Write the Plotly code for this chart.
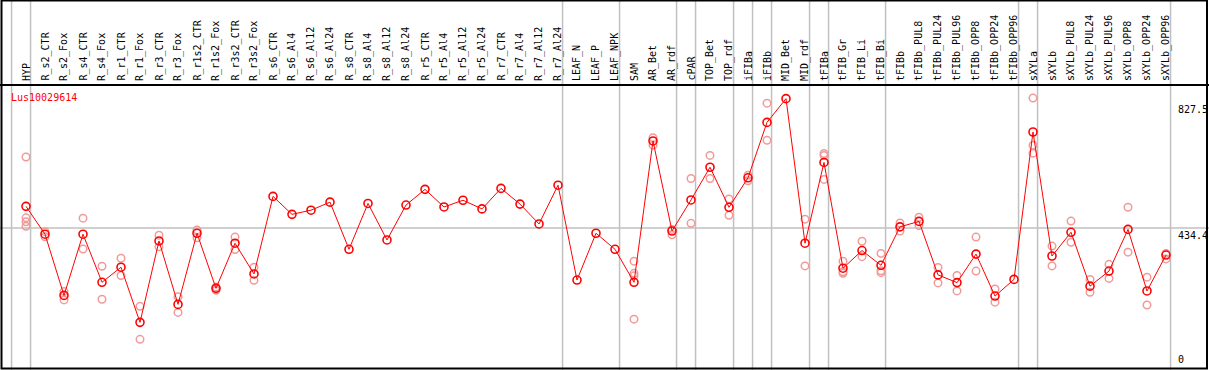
import plotly.graph_objects as go

W, H = 1209, 370

gene = "Lus10029614"

categories = ["HYP", "R_s2_CTR", "R_s2_Fox", "R_s4_CTR", "R_s4_Fox", "R_r1_CTR", "R_r1_Fox",
              "R_r3_CTR", "R_r3_Fox", "R_r1s2_CTR", "R_r1s2_Fox", "R_r3s2_CTR", "R_r3s2_Fox",
              "R_s6_CTR", "R_s6_Al4", "R_s6_Al12", "R_s6_Al24", "R_s8_CTR", "R_s8_Al4",
              "R_s8_Al12", "R_s8_Al24", "R_r5_CTR", "R_r5_Al4", "R_r5_Al12", "R_r5_Al24",
              "R_r7_CTR", "R_r7_Al4", "R_r7_Al12", "R_r7_Al24", "LEAF_N", "LEAF_P", "LEAF_NPK",
              "SAM", "AR_Bet", "AR_rdf", "cPAR", "TOP_Bet", "TOP_rdf", "iFIBa", "iFIBb",
              "MID_Bet", "MID_rdf", "tFIBa", "tFIB_Gr", "tFIB_Li", "tFIB_Bi", "tFIBb",
              "tFIBb_PUL8", "tFIBb_PUL24", "tFIBb_PUL96", "tFIBb_OPP8", "tFIBb_OPP24",
              "tFIBb_OPP96", "sXYLa", "sXYLb", "sXYLb_PUL8", "sXYLb_PUL24", "sXYLb_PUL96",
              "sXYLb_OPP8", "sXYLb_OPP24", "sXYLb_OPP96"]

mean_values = [502, 415, 224, 415, 265, 312, 140, 394, 196, 418, 246, 387, 291,
               533, 477, 490, 515, 368, 511, 397, 506, 555, 500, 521, 494,
               558, 509, 447, 568, 272, 418, 368,
               265, 706, 425, 522, 624, 499, 591, 764,
               838, 387, 639, 309, 364, 318, 438,
               455, 288, 264, 353, 222, 274,
               734, 347, 421, 253, 300, 430, 238, 350]

replicate_values = [
    [656, 466, 454, 440], [423, 407], [236, 210], [465, 369], [315, 212], [340, 286],
    [190, 87], [412, 376], [220, 171], [428, 404], [250, 240], [406, 367], [312, 271],
    [], [], [], [], [], [], [], [], [], [], [], [], [], [], [], [], [], [], [],
    [331, 293, 285, 150], [716, 693], [430, 413], [589, 449], [661, 589], [525, 474],
    [599, 582], [824, 708], [], [462, 316], [667, 661, 586], [331, 298, 293], [393, 345],
    [355, 301, 295], [450, 425], [468, 442], [311, 263], [286, 238], [406, 300],
    [244, 203], [], [840, 693, 668], [378, 316], [456, 390], [274, 234], [321, 277],
    [499, 359], [281, 194], [338, 355]]

# index of the last category of each group (group separators)
group_ends = [-1, 0, 28, 31, 34, 35, 37, 38, 39, 41, 42, 45, 52, 53, 60]

tick_values = [827.5, 434.4, 0]
tick_labels = ["827.5", "434.4", "0"]

# ---- pixel geometry ----
X0_PX, STEP_PX = 26.0, 19.0           # category 0 centre, spacing
Y_ZERO_PX, UNITS_PER_PX = 367.2, 3.1207
TOP_PX = 85                            # bottom of label band

x_idx = list(range(len(categories)))
xr = [-X0_PX / STEP_PX, (W - X0_PX) / STEP_PX]
yr = [-(H - Y_ZERO_PX) * UNITS_PER_PX, Y_ZERO_PX * UNITS_PER_PX]

def px_to_paper_y(py):
    return 1 - py / H

def px_to_paper_x(px):
    return px / W

FONT = "DejaVu Sans Mono"
GREY = "#c0c0c0"
RED = "#ff0000"
PALE = "#f09a9a"

fig = go.Figure()

rx, ry = [], []
for i, reps in enumerate(replicate_values):
    for v in reps:
        rx.append(i)
        ry.append(v)

fig.add_trace(go.Scatter(x=rx, y=ry, mode="markers",
                         marker=dict(symbol="circle-open", size=7.5, color=PALE,
                                     line=dict(width=1.5, color=PALE)),
                         hoverinfo="skip", showlegend=False))
fig.add_trace(go.Scatter(x=x_idx, y=mean_values, mode="lines+markers",
                         line=dict(color=RED, width=1),
                         marker=dict(symbol="circle-open", size=8, color=RED,
                                     line=dict(width=1.6, color=RED)),
                         text=categories, showlegend=False))

shapes = []
for k in group_ends:
    xs = k + 0.24
    shapes.append(dict(type="line", xref="x", yref="paper", x0=xs, x1=xs, y0=0, y1=1,
                       line=dict(color=GREY, width=1.5), layer="below"))
# horizontal grid line at middle tick
shapes.append(dict(type="line", xref="paper", yref="y", x0=0, x1=1,
                   y0=tick_values[1], y1=tick_values[1],
                   line=dict(color=GREY, width=1.5), layer="below"))
# frame
shapes.append(dict(type="line", xref="paper", yref="paper", x0=0, x1=1,
                   y0=px_to_paper_y(TOP_PX), y1=px_to_paper_y(TOP_PX),
                   line=dict(color="black", width=2)))
shapes.append(dict(type="rect", xref="paper", yref="paper",
                   x0=px_to_paper_x(1.5), x1=px_to_paper_x(1207),
                   y0=px_to_paper_y(368.5), y1=px_to_paper_y(0.5),
                   line=dict(color="black", width=2)))

annotations = []
for i, c in enumerate(categories):
    annotations.append(dict(x=i, y=px_to_paper_y(TOP_PX - 2), xref="x", yref="paper",
                            text=c, textangle=-90, showarrow=False,
                            xanchor="center", yanchor="bottom",
                            font=dict(family=FONT, size=10, color="black")))
annotations.append(dict(x=px_to_paper_x(9), y=px_to_paper_y(98), xref="paper", yref="paper",
                        text=gene, showarrow=False, xanchor="left", yanchor="middle",
                        font=dict(family=FONT, size=10, color=RED)))
for v, t in zip(tick_values, tick_labels):
    if v == 0:
        annotations.append(dict(x=px_to_paper_x(1176), y=px_to_paper_y(367), xref="paper",
                                yref="paper", text=t, showarrow=False, xanchor="left",
                                yanchor="bottom", font=dict(family=FONT, size=10, color="black")))
    else:
        annotations.append(dict(x=px_to_paper_x(1176), y=v, xref="paper", yref="y",
                                text=t, showarrow=False, xanchor="left", yanchor="top",
                                font=dict(family=FONT, size=10, color="black")))

fig.update_layout(width=W, height=H, margin=dict(l=0, r=0, t=0, b=0),
                  paper_bgcolor="white", plot_bgcolor="white",
                  xaxis=dict(range=xr, visible=False, fixedrange=True),
                  yaxis=dict(range=yr, visible=False, fixedrange=True),
                  shapes=shapes, annotations=annotations, showlegend=False)

fig.write_html("out.html", config={"displayModeBar": False},
               post_script="document.body.style.margin='0px';document.body.style.overflow='hidden';")
